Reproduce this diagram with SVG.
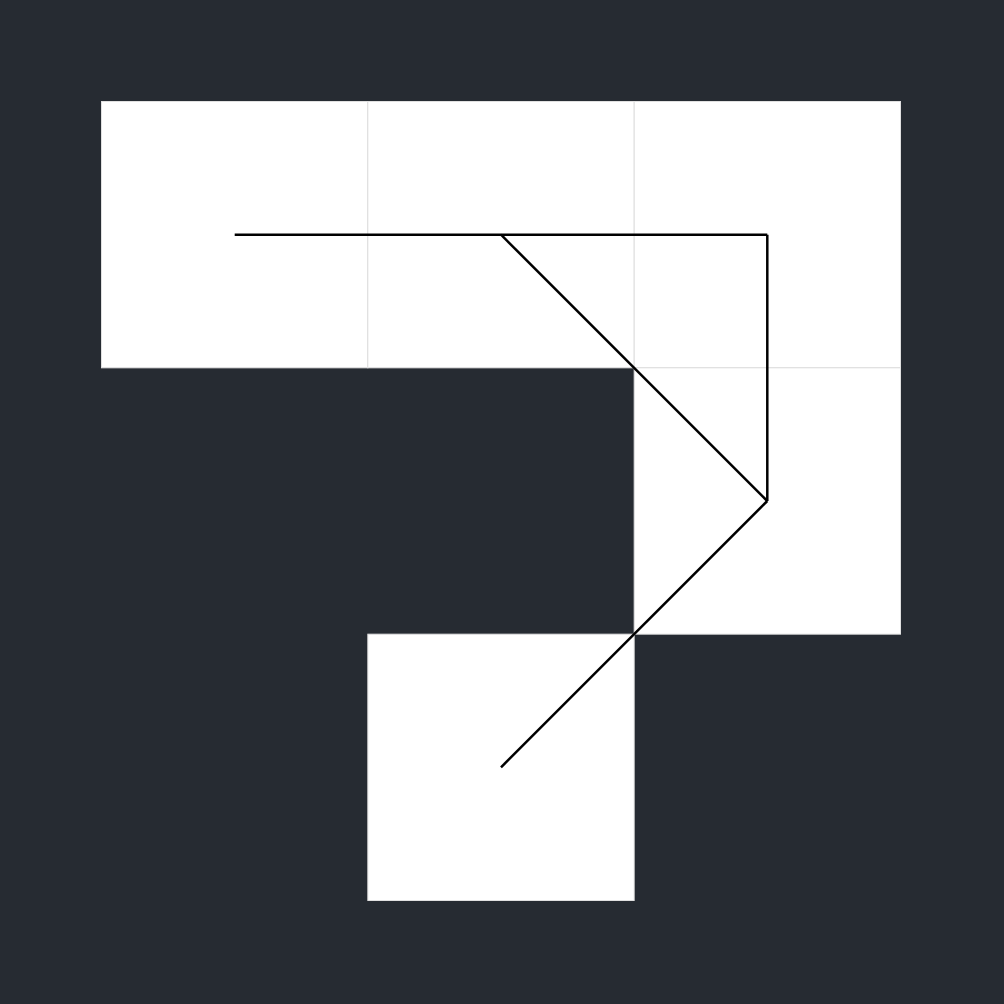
<svg xmlns="http://www.w3.org/2000/svg" width="1004" height="1004" viewBox="0 0 1004 1004">
<style>
.cell{fill:#ffffff;stroke:#e0e0e0;stroke-width:1}
.conn{stroke:#000000;stroke-width:2.5;fill:none;stroke-linecap:butt}
</style>
<rect width="1004" height="1004" fill="#262b32"/>
<g id="cells">
<rect id="c00" class="cell" x="101.5" y="101.5" width="266.33" height="266.33"/>
<rect id="c01" class="cell" x="367.83" y="101.5" width="266.33" height="266.33"/>
<rect id="c02" class="cell" x="634.17" y="101.5" width="266.33" height="266.33"/>
<rect id="c12" class="cell" x="634.17" y="367.83" width="266.33" height="266.33"/>
<rect id="c21" class="cell" x="367.83" y="634.17" width="266.33" height="266.33"/>
</g>
<g id="connectors">
<line class="conn" x1="234.7" y1="234.7" x2="767.3" y2="234.7"/>
<line class="conn" x1="767.3" y1="234.7" x2="767.3" y2="501"/>
<line class="conn" x1="501" y1="234.7" x2="767.3" y2="501"/>
<line class="conn" x1="767.3" y1="501" x2="501" y2="767.3"/>
</g>
</svg>
